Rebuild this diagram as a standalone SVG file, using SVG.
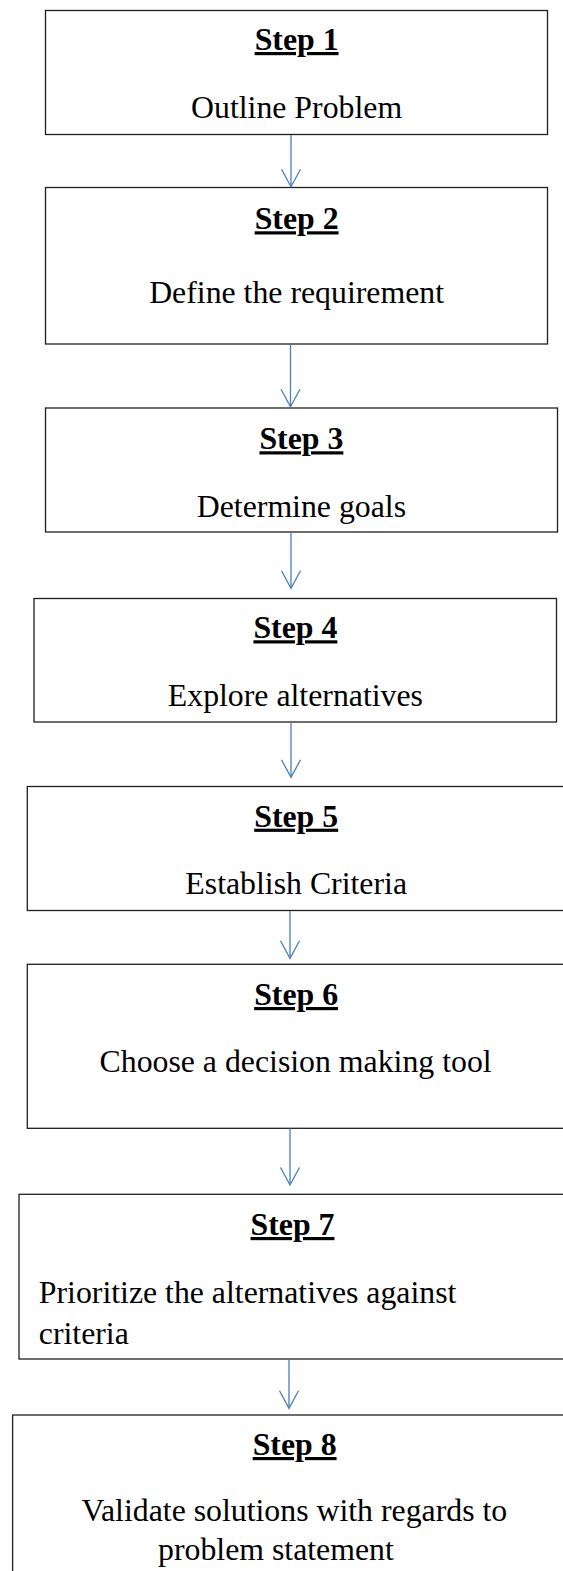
<svg xmlns="http://www.w3.org/2000/svg" width="563" height="1571" viewBox="0 0 563 1571">
  <style>
    .box { fill: #ffffff; stroke: #1f1f1f; stroke-width: 1.3; }
    .head { font-family: "Liberation Serif", "Times New Roman", serif; font-size: 31.8px; font-weight: bold; text-decoration: underline; fill: #000; text-anchor: middle; }
    .body { font-family: "Liberation Serif", "Times New Roman", serif; font-size: 31.8px; fill: #000; text-anchor: middle; }
    .left { text-anchor: start; }
    .conn { stroke: #4a7ebb; stroke-width: 1.3; fill: none; marker-end: url(#vhead); }
  </style>
  <defs>
    <marker id="vhead" markerUnits="userSpaceOnUse" viewBox="-20 -11 22 22" refX="0" refY="0" markerWidth="22" markerHeight="22" orient="auto">
      <path d="M -17.5 -9.5 L 0 0 L -17.5 9.5" fill="none" stroke="#4a7ebb" stroke-width="1.3"/>
    </marker>
  </defs>
  <rect width="563" height="1571" fill="#ffffff"/>

  <g id="step1">
    <rect class="box" x="45.5" y="10.5" width="502" height="124"/>
    <text class="head" x="296.6" y="50">Step 1</text>
    <text class="body" x="296.6" y="118.3">Outline Problem</text>
  </g>

  <g id="step2">
    <rect class="box" x="45.5" y="187.5" width="502" height="156.5"/>
    <text class="head" x="296.6" y="229.3">Step 2</text>
    <text class="body" x="296.6" y="303.3">Define the requirement</text>
  </g>

  <g id="step3">
    <rect class="box" x="45.5" y="408" width="512" height="124"/>
    <text class="head" x="301.4" y="449.3">Step 3</text>
    <text class="body" x="301.4" y="516.7">Determine goals</text>
  </g>

  <g id="step4">
    <rect class="box" x="34" y="598.5" width="522.5" height="123.5"/>
    <text class="head" x="295.4" y="638.3">Step 4</text>
    <text class="body" x="295.4" y="706">Explore alternatives</text>
  </g>

  <g id="step5">
    <rect class="box" x="27.3" y="786.5" width="538" height="124"/>
    <text class="head" x="296.2" y="826.7">Step 5</text>
    <text class="body" x="296.2" y="894">Establish Criteria</text>
  </g>

  <g id="step6">
    <rect class="box" x="27.3" y="964.3" width="538" height="164"/>
    <text class="head" x="296.1" y="1005">Step 6</text>
    <text class="body" x="295.6" y="1072.3">Choose a decision making tool</text>
  </g>

  <g id="step7">
    <rect class="box" x="19" y="1194.3" width="548" height="164.7"/>
    <text class="head" x="292.5" y="1235">Step 7</text>
    <text class="body left" x="38.8" y="1303.3">Prioritize the alternatives against</text>
    <text class="body left" x="38.8" y="1344">criteria</text>
  </g>

  <g id="step8">
    <rect class="box" x="12.6" y="1415" width="564" height="200"/>
    <text class="head" x="294.6" y="1455">Step 8</text>
    <text class="body" x="294.4" y="1521">Validate solutions with regards to</text>
    <text class="body" x="275.9" y="1560">problem statement</text>
  </g>

  <g id="connectors">
    <line class="conn" x1="291" y1="135" x2="291" y2="186.7"/>
    <line class="conn" x1="290.5" y1="344.5" x2="290.5" y2="406.7"/>
    <line class="conn" x1="291" y1="532.5" x2="291" y2="588.3"/>
    <line class="conn" x1="291" y1="722.5" x2="291" y2="777.3"/>
    <line class="conn" x1="290" y1="911" x2="290" y2="958.3"/>
    <line class="conn" x1="290" y1="1128.5" x2="290" y2="1185"/>
    <line class="conn" x1="289" y1="1359.5" x2="289" y2="1408.3"/>
  </g>
</svg>
